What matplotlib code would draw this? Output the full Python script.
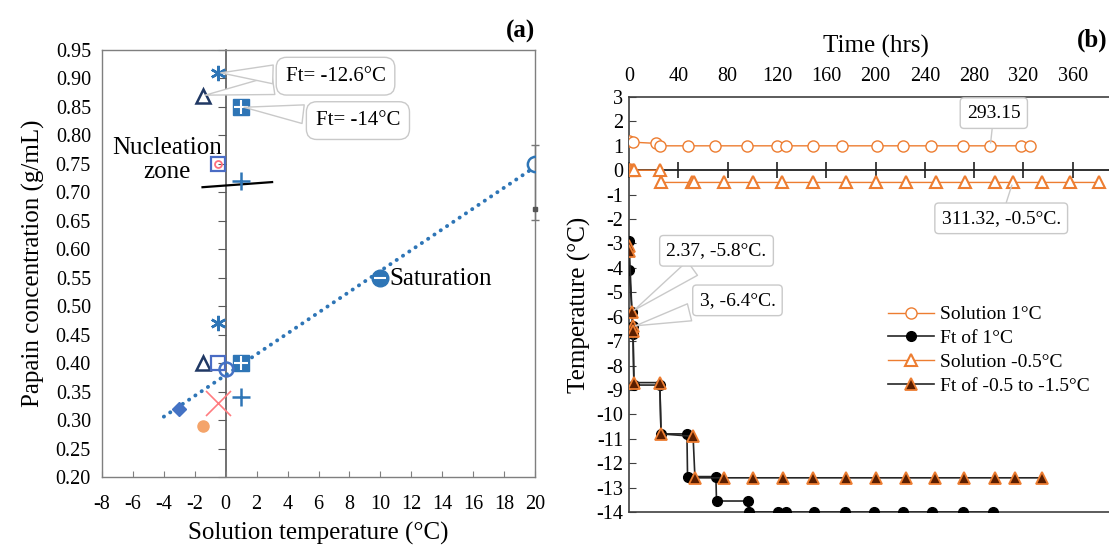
import numpy as np
import matplotlib
matplotlib.use("Agg")
import matplotlib.pyplot as plt

plt.rcParams['font.family'] = ['Liberation Serif', 'DejaVu Serif']
plt.rcParams['axes.unicode_minus'] = False
plt.rcParams['mathtext.default'] = 'regular'

# ---------------- Panel (a) data ----------------
star_T = [-0.5, -0.5]
star_C = [0.91, 0.47]
tri_T = [-1.5, -1.5]
tri_C = [0.87, 0.40]
fsq_T = [1, 1]
fsq_C = [0.85, 0.40]
plus_T = [1, 1]
plus_C = [0.72, 0.34]
osq_T = [-0.5, -0.5]
osq_C = [0.75, 0.40]
xmark_T = [-0.5]
xmark_C = [0.33]
xsmall_T = [-0.5]
xsmall_C = [0.75]
dot_T = [-1.5]
dot_C = [0.29]
# saturation series (diamond, open circle, filled circle, open circle)
sat_T = [-3, 0, 10, 20]
sat_C = [0.32, 0.39, 0.55, 0.75]
nuc_line_T = [-1.5, 3.0]
nuc_line_C = [0.709, 0.718]
err_T = [20]
err_C = [0.67]
err_lo = [0.018]
err_hi = [0.113]
a_yticks = [0.20, 0.25, 0.30, 0.35, 0.40, 0.45, 0.50, 0.55, 0.60, 0.65, 0.70,
            0.75, 0.80, 0.85, 0.90, 0.95]
a_xticks = [-8, -6, -4, -2, 0, 2, 4, 6, 8, 10, 12, 14, 16, 18, 20]

# ---------------- Panel (b) data ----------------
sol1_t = [0, 3, 22, 25, 48, 70, 96, 120, 127, 149, 173, 201, 222, 245, 271,
          293.15, 318, 325]
sol1_T = [1.2, 1.15, 1.1, 1.0, 1.0, 1.0, 1.0, 1.0, 1.0, 1.0, 1.0, 1.0, 1.0,
          1.0, 1.0, 1.0, 1.0, 1.0]
ft1_t = [0, 0.3, 2.37, 3, 3.2, 4, 25, 26, 47, 47.5, 70.5, 71, 96.5, 97,
         120.5, 127, 150, 175, 199, 222, 246, 271, 295]
ft1_T = [-2.9, -4.1, -5.8, -6.4, -6.7, -8.8, -8.8, -10.8, -10.8, -12.55,
         -12.55, -13.55, -13.55, -14, -14, -14, -14, -14, -14, -14, -14, -14,
         -14]
solm_t = [0, 1, 2, 3, 4, 25, 26, 51, 53, 77, 101, 124, 149, 176, 200, 225,
          249, 273, 297, 311.32, 335, 358, 381]
solm_T = [0, 0, 0, 0, 0, 0, -0.5, -0.5, -0.5, -0.5, -0.5, -0.5, -0.5, -0.5,
          -0.5, -0.5, -0.5, -0.5, -0.5, -0.5, -0.5, -0.5, -0.5]
ftm_t = [0, 0.3, 2.37, 3, 3.3, 4, 25, 26, 52, 53.5, 77, 101, 125, 149.5,
         176, 200, 225, 248, 272, 297, 313, 335]
ftm_T = [-3.1, -3.3, -5.8, -6.4, -6.6, -8.7, -8.7, -10.8, -10.9, -12.6,
         -12.6, -12.6, -12.6, -12.6, -12.6, -12.6, -12.6, -12.6, -12.6,
         -12.6, -12.6, -12.6]
b_xticks = [0, 40, 80, 120, 160, 200, 240, 280, 320, 360]
b_yticks = list(range(-14, 4))

W, H = 1109, 548
fig = plt.figure(figsize=(W / 100, H / 100), dpi=100)

BLUE = '#2E75B6'
NAVY = '#203864'
ORANGE = '#ED7D31'
GRAY = '#595959'
BOXC = '#c9c9c9'

# ================= Panel (a) =================
ax = fig.add_axes([102 / W, 1 - 477 / H, 433 / W, 427 / H])
ax.set_xlim(-8, 20)
ax.set_ylim(0.20, 0.95)
for s in ax.spines.values():
    s.set_color('#7f7f7f')
    s.set_linewidth(1.0)
ax.set_xticks(a_xticks)
ax.set_xticklabels([str(v) for v in a_xticks])
ax.set_yticks(a_yticks)
ax.set_yticklabels([f"{v:.2f}" for v in a_yticks])
ax.tick_params(axis='y', length=0, labelsize=14.5, pad=8)
ax.tick_params(axis='x', direction='in', length=4, color='#7f7f7f',
               labelsize=14.5, pad=13)
sec = ax.secondary_yaxis(8 / 28)
sec.set_yticks(a_yticks)
sec.tick_params(direction='out', length=6, color=GRAY,
                labelleft=False, labelright=False)
for s in sec.spines.values():
    s.set_color(GRAY)
    s.set_linewidth(1.2)

ax.set_xlabel('Solution temperature (°C)', fontsize=18, labelpad=6)
ax.set_ylabel('Papain concentration (g/mL)', fontsize=18, labelpad=8)

# trend line (linear fit of saturation series, backward forecast to -4)
coef = np.polyfit(sat_T, sat_C, 1)
tx = np.array([-4, 20])
ax.plot(tx, np.polyval(coef, tx), linestyle=(0, (0.05, 1.9)), color=BLUE,
        lw=2.8, zorder=2, dash_capstyle='round', solid_capstyle='round')

ax.plot(star_T, star_C, linestyle='none', marker=(6, 2, 0), ms=11,
        mec=BLUE, mew=1.8, zorder=4)
ax.plot(tri_T, tri_C, linestyle='none', marker='^', ms=10, mfc='white',
        mec=NAVY, mew=1.8, zorder=4)
ax.plot(fsq_T, fsq_C, linestyle='none', marker='s', ms=11, mfc=BLUE,
        mec=BLUE, zorder=4)
ax.plot(fsq_T, fsq_C, linestyle='none', marker='+', ms=10, mec='white',
        mew=1.5, zorder=5)
ax.plot(plus_T, plus_C, linestyle='none', marker='+', ms=13, mec=BLUE,
        mew=1.8, zorder=4)
ax.plot(osq_T, osq_C, linestyle='none', marker='s', ms=10, mfc='none',
        mec='#4A6CC4', mew=1.6, zorder=4)
ax.plot(xsmall_T, xsmall_C, linestyle='none', marker='o', ms=5, mfc='none',
        mec='#FF6F7D', mew=1.3, zorder=5)
ax.plot(xmark_T, xmark_C, linestyle='none', marker='x', ms=18,
        mec='#FF7C80', mew=1.2, zorder=4)
ax.plot(dot_T, dot_C, linestyle='none', marker='o', ms=8, mfc='#F4A46A',
        mec='#F4A46A', zorder=4)
# saturation markers
ax.plot(sat_T[0:1], sat_C[0:1], linestyle='none', marker='D', ms=7,
        mfc='#4472C4', mec='#4472C4', zorder=4)
ax.plot(sat_T[1:2], sat_C[1:2], linestyle='none', marker='o', ms=10,
        mfc='none', mec='#4472C4', mew=1.8, zorder=4)
ax.plot(sat_T[2:3], sat_C[2:3], linestyle='none', marker='o', ms=12,
        mfc=BLUE, mec=BLUE, zorder=4)
ax.plot(sat_T[2:3], sat_C[2:3], linestyle='none', marker='_', ms=8,
        mec='white', mew=1.5, zorder=5)
ax.plot(sat_T[3:4], sat_C[3:4], linestyle='none', marker='o', ms=11,
        mfc='none', mec=BLUE, mew=1.8, zorder=4)
ax.plot(nuc_line_T, nuc_line_C, color='black', lw=1.6, zorder=3)
ax.errorbar(err_T, err_C, yerr=[err_lo, err_hi], fmt='s', ms=3, color='#555555',
            ecolor='#777777', capsize=3, lw=1, zorder=3, clip_on=False)

bb = dict(boxstyle='round,pad=0.45,rounding_size=0.5', fc='white', ec=BOXC, lw=1)
wedge = dict(arrowstyle='wedge,tail_width=0.9,shrink_factor=0.5', fc='white',
             ec=BOXC, lw=1)
ax.annotate('Ft= -12.6°C', xy=(tri_T[0], tri_C[0]), xytext=(7.1, 0.904),
            ha='center', va='center', fontsize=15, color='none',
            bbox=dict(boxstyle='round,pad=0.45', fc='none', ec='none'),
            arrowprops=wedge, zorder=6)
ax.annotate('Ft= -12.6°C', xy=(star_T[0], star_C[0]), xytext=(7.1, 0.904),
            ha='center', va='center', fontsize=15, bbox=bb,
            arrowprops=wedge, zorder=7)
ax.annotate('Ft= -14°C', xy=(fsq_T[0], fsq_C[0]), xytext=(8.55, 0.826),
            ha='center', va='center', fontsize=15, bbox=bb,
            arrowprops=wedge, zorder=7)
ax.text(-3.8, 0.757, 'Nucleation\nzone', ha='center', va='center',
        fontsize=18, linespacing=1.1, zorder=6)
ax.text(10.6, 0.548, 'Saturation', ha='left', va='center', fontsize=18)
fig.text(535 / W, 1 - 31 / H, '(a)', ha='right', va='center', fontsize=18,
         fontweight='bold')

# ================= Panel (b) =================
bx = fig.add_axes([629 / W, 1 - 512 / H, 493 / W, 415 / H])
bx.set_xlim(0, 400)
bx.set_ylim(-14, 3)
for s in bx.spines.values():
    s.set_color('#404040')
    s.set_linewidth(1.2)
bx.xaxis.tick_top()
bx.xaxis.set_label_position('top')
bx.set_xticks(b_xticks)
bx.set_xticklabels([str(v) for v in b_xticks])
bx.tick_params(axis='x', length=0, labelsize=14.5, pad=8)
bx.set_yticks(b_yticks)
bx.set_yticklabels([str(v) for v in b_yticks])
bx.tick_params(axis='y', direction='in', length=5, color='#404040',
               labelsize=14.5, pad=4)
secx = bx.secondary_xaxis(14 / 17)
secx.set_xticks(b_xticks + [400])
secx.tick_params(direction='inout', length=12, color='#202020', width=1.2,
                 labeltop=False, labelbottom=False)
for s in secx.spines.values():
    s.set_color('#202020')
    s.set_linewidth(1.3)
bx.set_xlabel('Time (hrs)', fontsize=18, labelpad=10)
bx.set_ylabel('Temperature (°C)', fontsize=18, labelpad=4)

DARKFILL = '#5a1e00'
bx.plot(sol1_t, sol1_T, color=ORANGE, lw=1.0, marker='o', ms=8, mfc='white',
        mec=ORANGE, mew=1.0, label='Solution 1°C', zorder=4)
bx.plot(ft1_t, ft1_T, color='#262626', lw=1.2, marker='o', ms=7,
        mfc='black', mec='black', label='Ft of 1°C', zorder=4)
bx.plot(solm_t, solm_T, color=ORANGE, lw=1.0, marker='^', ms=9,
        mfc='white', mec=ORANGE, mew=1.5, label='Solution -0.5°C', zorder=5)
bx.plot(ftm_t, ftm_T, color='#262626', lw=1.2, marker='^', ms=9,
        mfc=DARKFILL, mec=ORANGE, mew=1.3, label='Ft of -0.5 to -1.5°C',
        zorder=5)

bb2 = dict(boxstyle='round,pad=0.35,rounding_size=0.2', fc='white', ec=BOXC,
           lw=1)
line2 = dict(arrowstyle='-', color=BOXC, lw=1.0, shrinkA=0, shrinkB=2)
bx.annotate('293.15', xy=(293.15, 1.0), xytext=(296, 2.34), ha='center',
            va='center', fontsize=14, bbox=bb2, arrowprops=line2, zorder=6)
bx.annotate('311.32, -0.5°C.', xy=(311.32, -0.5), xytext=(302, -1.97),
            ha='center', va='center', fontsize=14, bbox=bb2,
            arrowprops=line2, zorder=6)
bx.annotate('2.37, -5.8°C.', xy=(2.37, -5.8), xytext=(71, -3.3),
            ha='center', va='center', fontsize=14, bbox=bb2,
            arrowprops=wedge, zorder=6)
bx.annotate('3, -6.4°C.', xy=(3, -6.4), xytext=(88, -5.33),
            ha='center', va='center', fontsize=14, bbox=bb2,
            arrowprops=wedge, zorder=6)

leg = bx.legend(loc='upper left', bbox_to_anchor=(880 / W, 1 - 298 / H),
                bbox_transform=fig.transFigure, frameon=False, fontsize=14,
                handlelength=2.4, handletextpad=0.3, labelspacing=0.32,
                borderaxespad=0)
fig.text(1092 / W, 1 - 40 / H, '(b)', ha='center', va='center', fontsize=18,
         fontweight='bold')

fig.savefig('out.png', dpi=100)
